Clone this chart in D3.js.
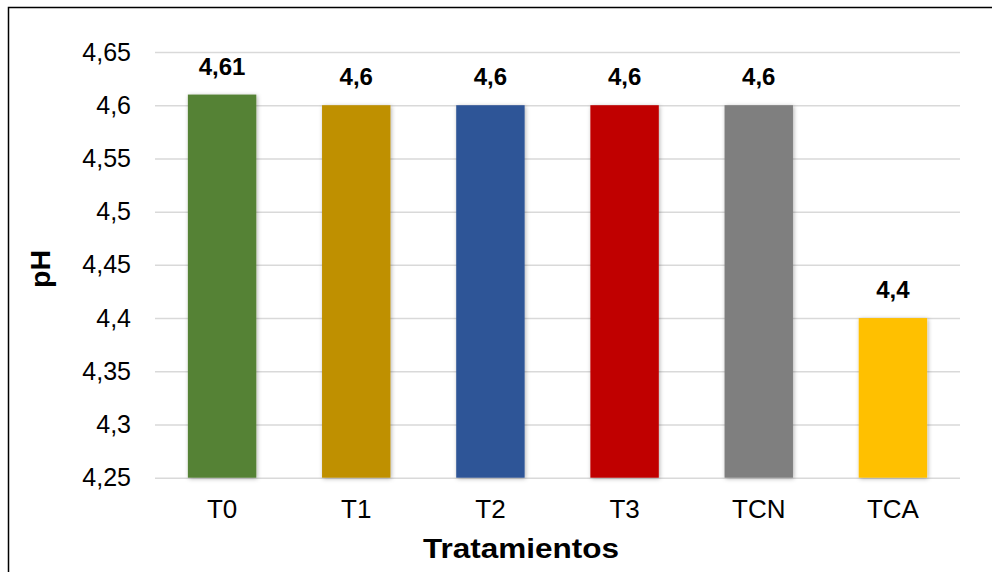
<!DOCTYPE html>
<html>
<head>
<meta charset="utf-8">
<script src="https://cdn.jsdelivr.net/npm/d3@7"></script>
<style>
  html, body { margin: 0; padding: 0; background: #fff; }
  svg { display: block; font-family: "Liberation Sans", Arial, sans-serif; }
</style>
</head>
<body>
<svg id="chart" width="992" height="572"></svg>
<script>
// pH por tratamiento
const categories = ["T0", "T1", "T2", "T3", "TCN", "TCA"];
const values = [4.61, 4.6, 4.6, 4.6, 4.6, 4.4];
const colors = ["#548235", "#BF9000", "#2F5597", "#C00000", "#7F7F7F", "#FFC000"];
const yTicks = [4.25, 4.3, 4.35, 4.4, 4.45, 4.5, 4.55, 4.6, 4.65];
const yTitle = "pH";
const xTitle = "Tratamientos";

const svg = d3.select("#chart");
const W = 992, H = 572;
const plot = { left: 155, right: 960, top: 52, bottom: 477.7 };

const fmt = v => String(v).replace(".", ",");

// drop shadow under the bars
const defs = svg.append("defs");
const f = defs.append("filter").attr("id", "shadow")
  .attr("x", "-20%").attr("y", "-20%").attr("width", "140%").attr("height", "140%");
f.append("feDropShadow").attr("dx", 1).attr("dy", 1).attr("stdDeviation", 2)
  .attr("flood-color", "#000").attr("flood-opacity", 0.3);

// outer frame
svg.append("rect")
  .attr("x", 8.5).attr("y", 7.5)
  .attr("width", W + 20).attr("height", H + 20)
  .attr("fill", "none").attr("stroke", "#000").attr("stroke-width", 1.5);

const x = d3.scaleBand().domain(categories)
  .range([plot.left, plot.right]).paddingInner(0.49).paddingOuter(0.245);
const y = d3.scaleLinear().domain([4.25, 4.65]).range([plot.bottom, plot.top]);

// gridlines + y tick labels
const yAxis = d3.axisLeft(y).tickValues(yTicks).tickFormat(fmt)
  .tickSize(-(plot.right - plot.left)).tickPadding(24);
const gy = svg.append("g").attr("transform", `translate(${plot.left},0)`).call(yAxis);
gy.select(".domain").remove();
gy.selectAll(".tick line").attr("stroke", "#d9d9d9").attr("stroke-width", 1.5);
gy.selectAll(".tick text")
  .attr("fill", "#000").attr("font-size", 25)
  .attr("font-family", "Liberation Sans, Arial, sans-serif");

// bars
svg.append("g").selectAll("rect")
  .data(categories)
  .join("rect")
  .attr("x", d => x(d))
  .attr("y", (d, i) => y(values[i]))
  .attr("width", x.bandwidth())
  .attr("height", (d, i) => y(4.25) - y(values[i]))
  .attr("fill", (d, i) => colors[i])
  .attr("filter", "url(#shadow)");

// value labels
svg.append("g").selectAll("text")
  .data(categories)
  .join("text")
  .attr("x", d => x(d) + x.bandwidth() / 2)
  .attr("y", (d, i) => y(values[i]) - 20)
  .attr("text-anchor", "middle")
  .attr("font-size", 24).attr("font-weight", "bold")
  .text((d, i) => fmt(values[i]));

// x axis category labels
const xAxis = d3.axisBottom(x).tickSize(0).tickPadding(22);
const gx = svg.append("g").attr("transform", `translate(0,${plot.bottom})`).call(xAxis);
gx.select(".domain").remove();
gx.selectAll(".tick text")
  .attr("fill", "#000").attr("font-size", 26)
  .attr("font-family", "Liberation Sans, Arial, sans-serif");

// axis titles
svg.append("text")
  .attr("transform", "translate(50,269) rotate(-90)")
  .attr("text-anchor", "middle")
  .attr("font-size", 28).attr("font-weight", "bold")
  .attr("textLength", 38).attr("lengthAdjust", "spacingAndGlyphs")
  .text(yTitle);

svg.append("text")
  .attr("x", 521).attr("y", 558)
  .attr("text-anchor", "middle")
  .attr("font-size", 28).attr("font-weight", "bold")
  .attr("textLength", 196).attr("lengthAdjust", "spacingAndGlyphs")
  .text(xTitle);
</script>
</body>
</html>
